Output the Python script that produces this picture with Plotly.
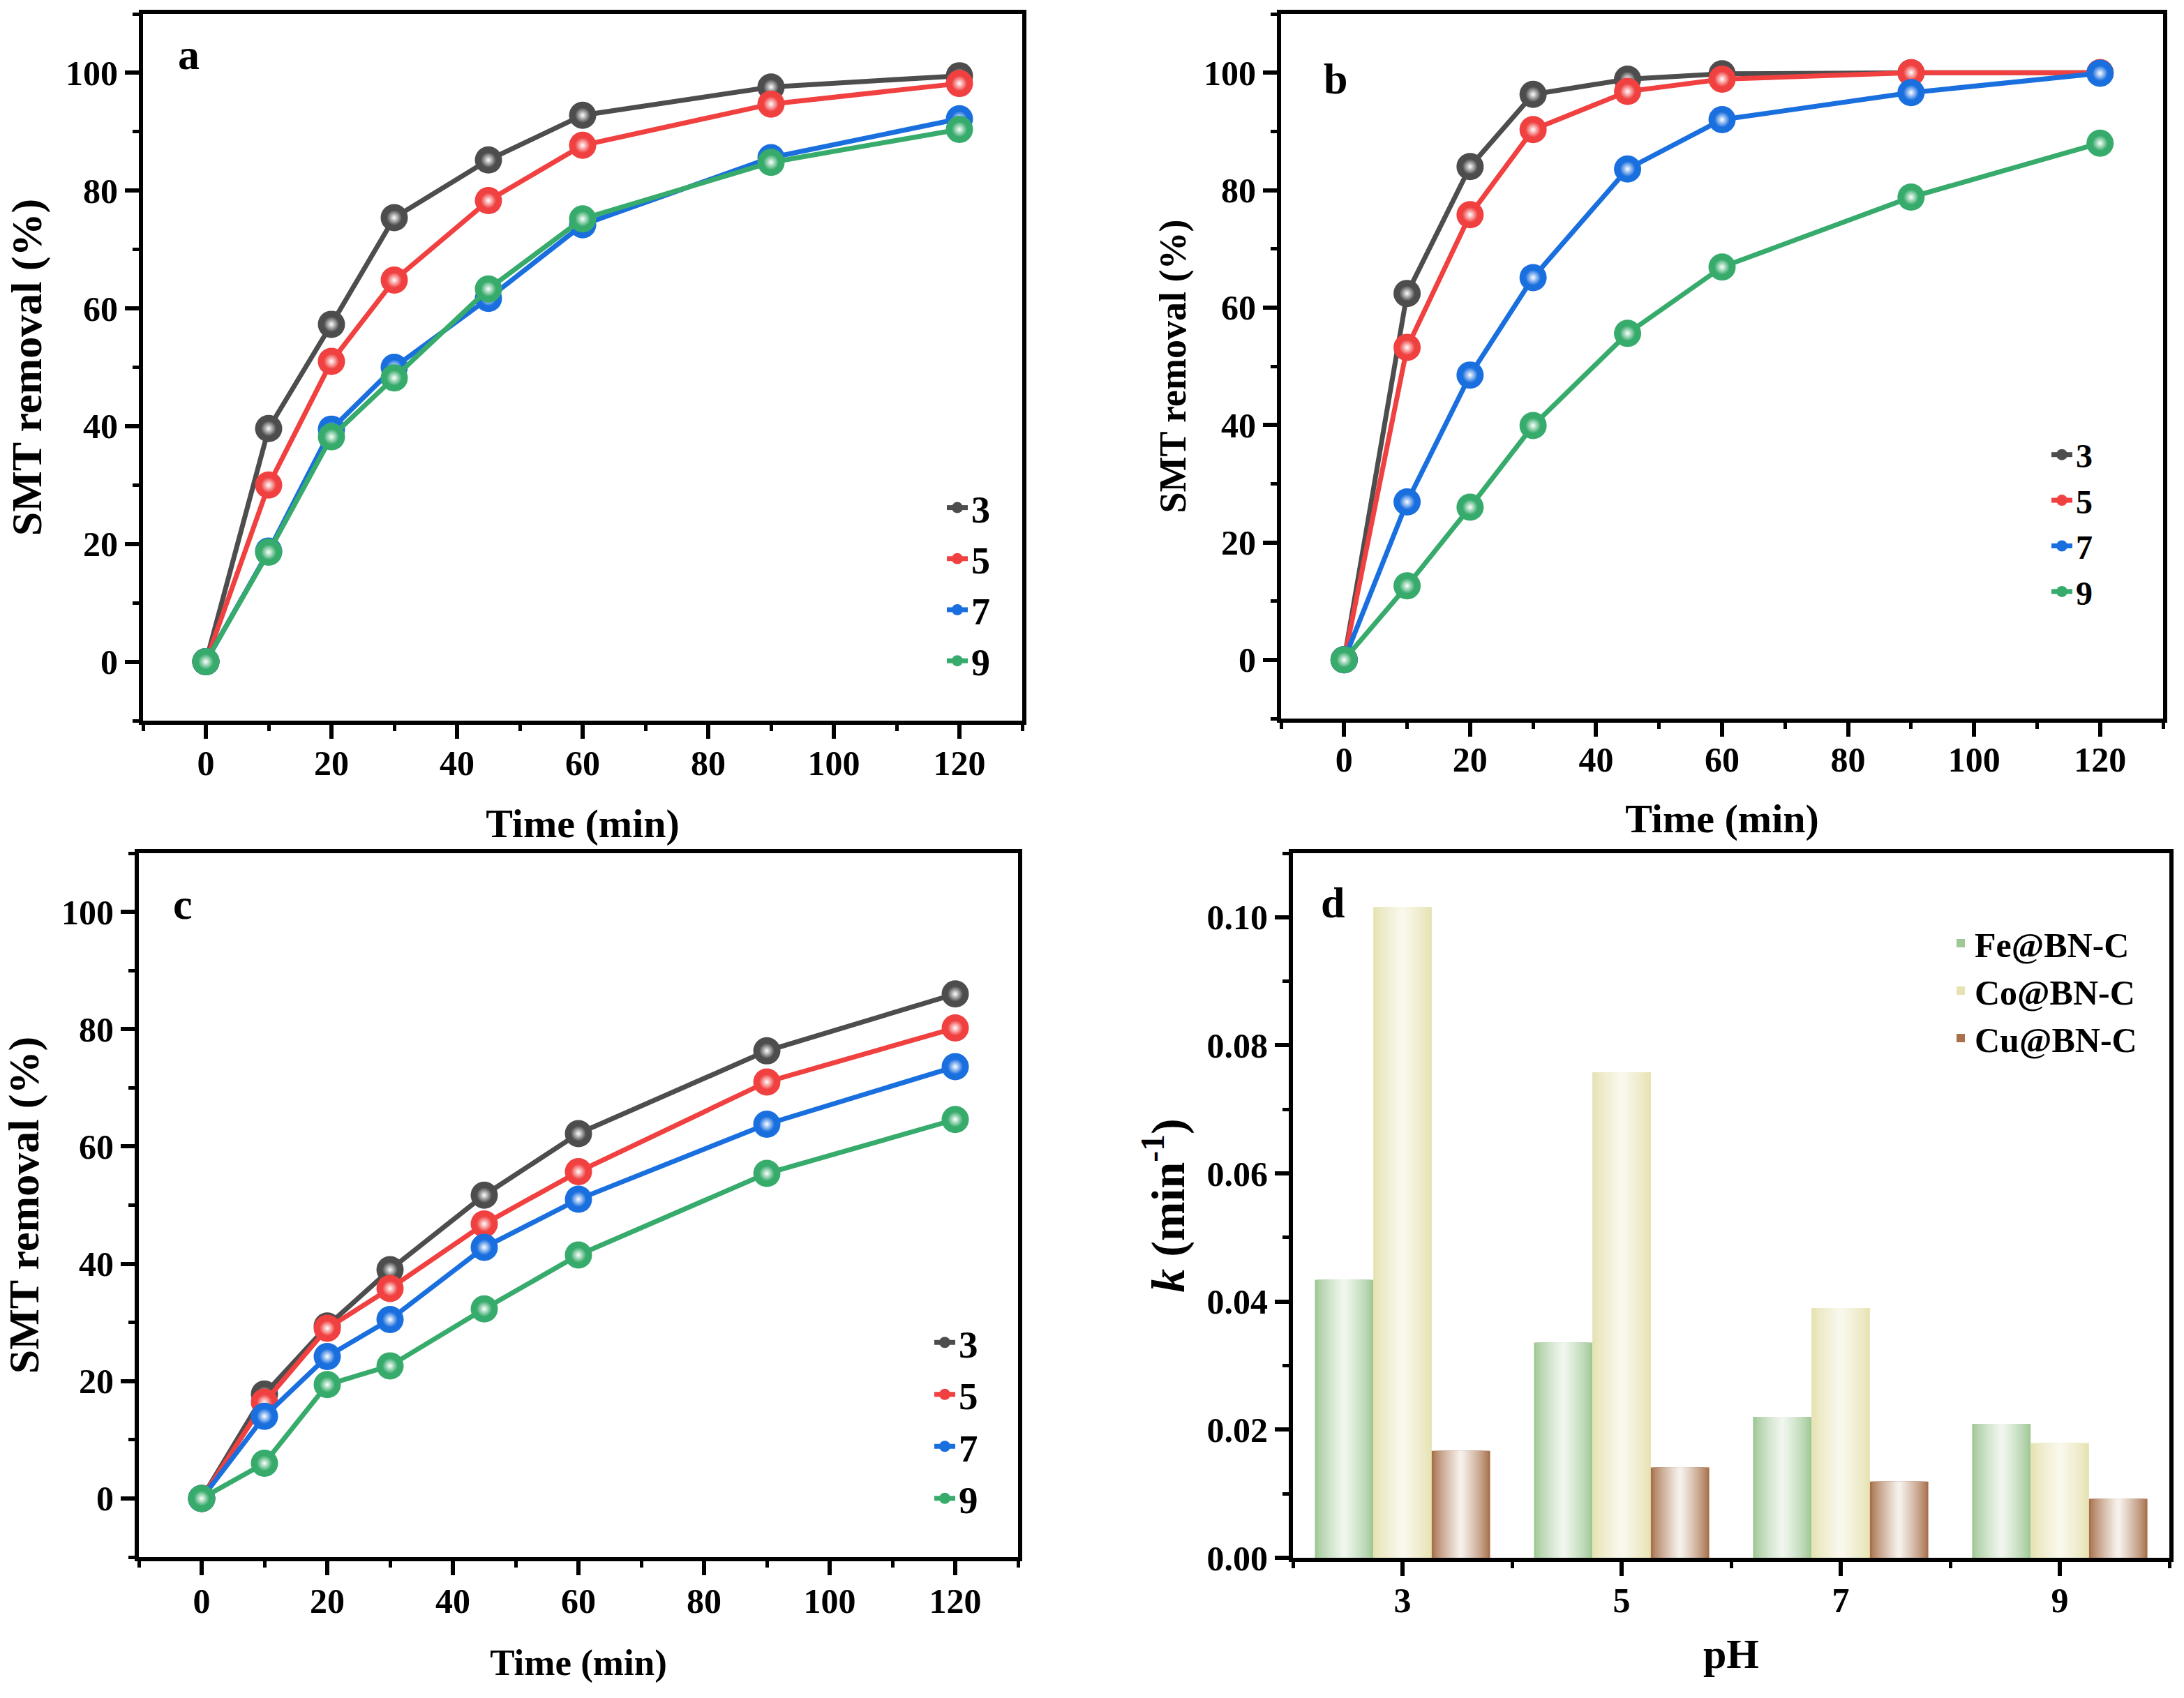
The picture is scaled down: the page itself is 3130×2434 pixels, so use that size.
import plotly.graph_objects as go

# ---------------- data ----------------
time_min = [0, 10, 20, 30, 45, 60, 90, 120]
ph_labels = ["3", "5", "7", "9"]

a_ph3 = [0, 39.6, 57.3, 75.4, 85.2, 92.8, 97.6, 99.5]
a_ph5 = [0, 30.0, 51.0, 64.8, 78.3, 87.7, 94.7, 98.2]
a_ph7 = [0, 18.8, 39.5, 50.0, 61.7, 74.2, 85.6, 92.2]
a_ph9 = [0, 18.6, 38.2, 48.2, 63.3, 75.2, 84.8, 90.4]

b_ph3 = [0, 62.4, 84.0, 96.3, 98.9, 99.8, 100.0, 100.0]
b_ph5 = [0, 53.2, 75.8, 90.3, 96.8, 98.9, 100.0, 100.0]
b_ph7 = [0, 26.9, 48.5, 65.1, 83.6, 92.0, 96.6, 99.9]
b_ph9 = [0, 12.6, 26.0, 39.9, 55.6, 66.9, 78.8, 88.0]

c_ph3 = [0, 17.8, 29.4, 39.0, 51.7, 62.2, 76.3, 86.0]
c_ph5 = [0, 16.4, 29.0, 35.8, 46.8, 55.7, 71.0, 80.2]
c_ph7 = [0, 14.0, 24.2, 30.5, 42.8, 51.0, 63.8, 73.6]
c_ph9 = [0, 6.0, 19.4, 22.6, 32.3, 41.5, 55.4, 64.6]

ph_values = [3, 5, 7, 9]
k_fe = [0.0434, 0.0336, 0.0220, 0.0209]
k_co = [0.1016, 0.0758, 0.0390, 0.0179]
k_cu = [0.0167, 0.0141, 0.0119, 0.0092]

series_names = ["3", "5", "7", "9"]
catalyst_names = ["Fe@BN-C", "Co@BN-C", "Cu@BN-C"]

# ---------------- styles ----------------
W, H = 3130, 2434
FONT = "Liberation Serif"
line_colors = ["#4D4D4D", "#F04040", "#1A6FDF", "#37AB6B"]
bar_edge = [(160, 200, 150), (230, 226, 178), (168, 113, 75)]
bar_center = [(240, 246, 238), (249, 248, 236), (246, 240, 235)]


def dom_x(p0, p1):
    return [p0 / W, p1 / W]


def dom_y(top, bottom):
    return [1 - bottom / H, 1 - top / H]


fig = go.Figure()

panels = [
    ("x", "y", "legend", [a_ph3, a_ph5, a_ph7, a_ph9]),
    ("x2", "y2", "legend2", [b_ph3, b_ph5, b_ph7, b_ph9]),
    ("x3", "y3", "legend3", [c_ph3, c_ph5, c_ph7, c_ph9]),
]

for xa, ya, lg, data in panels:
    for i, vals in enumerate(data):
        fig.add_trace(go.Scatter(
            x=time_min, y=vals, mode="lines+markers", name=series_names[i],
            xaxis=xa, yaxis=ya, legend=lg, cliponaxis=False,
            line=dict(color=line_colors[i], width=7),
            marker=dict(size=39, color=line_colors[i], line=dict(width=0)),
        ))
        fig.add_trace(go.Scatter(
            x=time_min, y=vals, mode="markers", showlegend=False,
            xaxis=xa, yaxis=ya, hoverinfo="skip", cliponaxis=False,
            marker=dict(size=22, color=line_colors[i], line=dict(width=0),
                        gradient=dict(type="radial", color="#FFFFFF")),
        ))

# gradient bars, layered
N = 14
bar_w = 0.5333
centers = [-bar_w, 0.0, bar_w]
k_series = [k_fe, k_co, k_cu]
for j, vals in enumerate(k_series):
    for i in range(N):
        t = (i / (N - 1)) ** 0.8
        col = tuple(int(round(bar_edge[j][c] * (1 - t) + bar_center[j][c] * t)) for c in range(3))
        w = bar_w * (1 - i / N)
        fig.add_trace(go.Bar(
            x=ph_values, y=vals, width=w, offset=centers[j] - w / 2,
            marker=dict(color="rgb(%d,%d,%d)" % col, line=dict(width=0)),
            name=catalyst_names[j], showlegend=(i == 0), legend="legend4",
            xaxis="x4", yaxis="y4", hoverinfo="skip" if i else None,
        ))

tickfont = dict(family=FONT, size=50, color="black", weight="bold")


def axis_common():
    return dict(showline=True, linewidth=6, linecolor="black", mirror=True,
                ticks="outside", ticklen=20, tickwidth=6, tickcolor="black",
                showgrid=False, zeroline=False, tickfont=tickfont, automargin=False)


def xtime(domain, anchor, tsize, standoff, lstand):
    d = axis_common()
    d.update(domain=domain, anchor=anchor, range=[-10, 130], tick0=0, dtick=20,
             ticklabelstandoff=lstand,
             minor=dict(ticks="outside", ticklen=9, tickwidth=5, dtick=10, tick0=0, tickcolor="black"),
             title=dict(text="Time (min)", font=dict(family=FONT, size=tsize, color="black", weight="bold"),
                        standoff=standoff))
    return d


def yrem(domain, anchor, tsize, standoff):
    d = axis_common()
    d.update(domain=domain, anchor=anchor, range=[-10, 110], tick0=0, dtick=20,
             minor=dict(ticks="outside", ticklen=9, tickwidth=5, dtick=10, tick0=0, tickcolor="black"),
             title=dict(text="SMT removal (%)", font=dict(family=FONT, size=tsize, color="black", weight="bold"),
                        standoff=standoff))
    return d


xd = axis_common()
xd.update(domain=dom_x(1853, 3109), anchor="y4", range=[2, 10], tickvals=ph_values, ticktext=ph_labels,
          ticklabelstandoff=-8,
          minor=dict(ticks="outside", ticklen=9, tickwidth=5, dtick=1, tick0=0, tickcolor="black"),
          title=dict(text="pH", font=dict(family=FONT, size=60, color="black", weight="bold"), standoff=30))
yd = axis_common()
yd.update(domain=dom_y(1223, 2233), anchor="x4", range=[0, 0.11], tick0=0, dtick=0.02, tickformat=".2f",
          minor=dict(ticks="outside", ticklen=9, tickwidth=5, dtick=0.01, tick0=0, tickcolor="black"),
          title=dict(text="<i>k</i> (min<sup>-1</sup>)", font=dict(family=FONT, size=68, color="black", weight="bold"),
                     standoff=12))


def legend(x, ytop, size):
    return dict(x=x, y=1 - ytop / H, xanchor="left", yanchor="top", bgcolor="rgba(0,0,0,0)",
                font=dict(family=FONT, size=size, color="black", weight="bold"),
                tracegroupgap=0, itemwidth=30)


fig.update_layout(
    width=W, height=H, margin=dict(l=0, r=0, t=0, b=0, pad=0),
    paper_bgcolor="white", plot_bgcolor="white",
    font=dict(family=FONT, color="black"),
    barmode="overlay",
    xaxis=xtime(dom_x(205, 1465), "y", 58, 40, -8),
    yaxis=yrem(dom_y(20, 1033), "x", 62, 16),
    xaxis2=xtime(dom_x(1836, 3100), "y2", 58, 38, -10),
    yaxis2=yrem(dom_y(20, 1030), "x2", 54, 10),
    xaxis3=xtime(dom_x(199, 1459), "y3", 53, 44, -6),
    yaxis3=yrem(dom_y(1223, 2232), "x3", 62, 14),
    xaxis4=xd, yaxis4=yd,
    legend=legend(1352 / W, 686, 54),
    legend2=legend(2935 / W, 614, 48),
    legend3=legend(1334 / W, 1882, 55),
    legend4=legend(2790 / W, 1313, 50),
    showlegend=True,
)

labels = [("a", "x domain", "y domain", 0.052, 0.943),
          ("b", "x2 domain", "y2 domain", 0.062, 0.908),
          ("c", "x3 domain", "y3 domain", 0.050, 0.928),
          ("d", "x4 domain", "y4 domain", 0.045, 0.930)]
for txt, xr, yr, x, y in labels:
    fig.add_annotation(text=txt, xref=xr, yref=yr, x=x, y=y, showarrow=False,
                       xanchor="center", yanchor="middle",
                       font=dict(family=FONT, size=62, color="black", weight="bold"))

fig.write_html("out.html")
